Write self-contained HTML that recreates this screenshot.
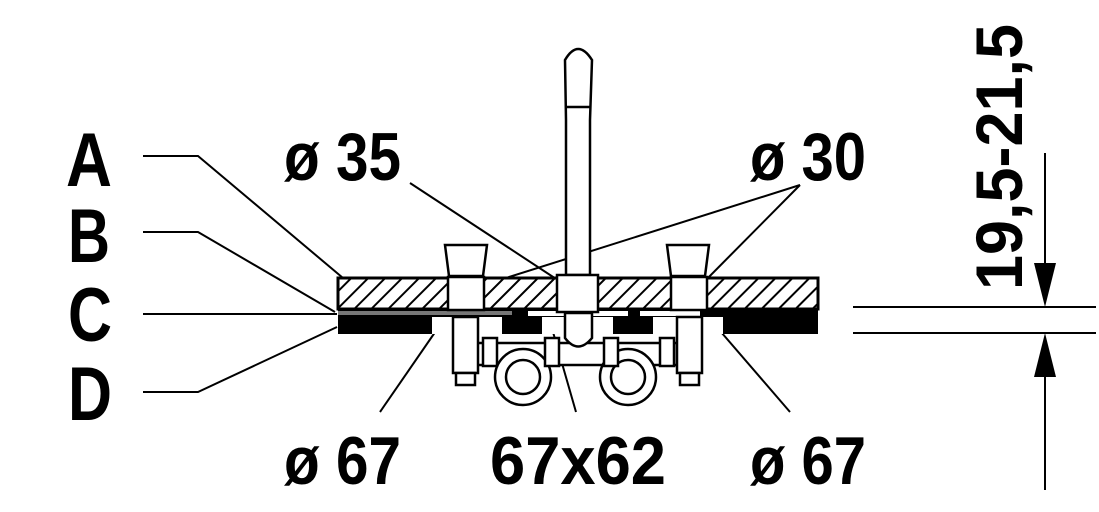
<!DOCTYPE html>
<html><head><style>html,body{margin:0;padding:0;background:#fff;}svg{display:block}</style></head>
<body>
<svg width="1099" height="512" viewBox="0 0 1099 512" xmlns="http://www.w3.org/2000/svg">
<defs>
<pattern id="h" width="12" height="12" patternUnits="userSpaceOnUse" patternTransform="rotate(45)">
<rect width="12" height="12" fill="#fff"/><line x1="0" y1="0" x2="0" y2="12" stroke="#000" stroke-width="4"/>
</pattern>
</defs>
<g font-family="Liberation Sans, sans-serif" font-weight="bold" fill="#000">
<text x="66" y="186" font-size="76" textLength="46" lengthAdjust="spacingAndGlyphs">A</text>
<text x="68" y="262" font-size="76" textLength="42" lengthAdjust="spacingAndGlyphs">B</text>
<text x="68" y="341" font-size="76" textLength="44" lengthAdjust="spacingAndGlyphs">C</text>
<text x="68" y="420" font-size="76" textLength="44" lengthAdjust="spacingAndGlyphs">D</text>
<text x="284" y="180" font-size="68" textLength="117" lengthAdjust="spacingAndGlyphs">ø 35</text>
<text x="750" y="180" font-size="68" textLength="116" lengthAdjust="spacingAndGlyphs">ø 30</text>
<text x="284" y="484" font-size="68" textLength="117" lengthAdjust="spacingAndGlyphs">ø 67</text>
<text x="490" y="484" font-size="68" textLength="176" lengthAdjust="spacingAndGlyphs">67x62</text>
<text x="750" y="484" font-size="68" textLength="116" lengthAdjust="spacingAndGlyphs">ø 67</text>
<text transform="translate(1022,290) rotate(-90)" font-size="66" textLength="266" lengthAdjust="spacingAndGlyphs">19,5-21,5</text>
</g>
<g stroke="#000" fill="none" stroke-width="2">
<polyline points="143,156 198,156 343,278"/>
<polyline points="143,232 198,232 335,312"/>
<polyline points="143,314 337,314"/>
<polyline points="143,392 198,392 337,327"/>
<line x1="410" y1="183" x2="576" y2="292"/>
<line x1="800" y1="185" x2="468" y2="290"/>
<line x1="800" y1="185" x2="697" y2="289"/>
<line x1="440" y1="325" x2="380" y2="412"/>
<line x1="553" y1="332" x2="576" y2="412"/>
<line x1="715" y1="325" x2="790" y2="412"/>
<line x1="853" y1="307" x2="1096" y2="307"/>
<line x1="853" y1="333" x2="1096" y2="333"/>
<line x1="1045" y1="153" x2="1045" y2="270"/>
<line x1="1045" y1="370" x2="1045" y2="490"/>
</g>
<polygon points="1034,263 1056,263 1045,307" fill="#000"/>
<polygon points="1034,377 1056,377 1045,333" fill="#000"/>
<!-- countertop -->
<rect x="338" y="278" width="480" height="31" fill="url(#h)" stroke="#000" stroke-width="3"/>
<rect x="338" y="309" width="480" height="8" fill="#000"/>
<rect x="338" y="311" width="174" height="4" fill="#777"/>
<rect x="528" y="311" width="100" height="5" fill="#fff"/>
<rect x="640" y="311" width="60" height="5" fill="#fff"/>
<rect x="338" y="317" width="480" height="17" fill="#000"/>
<rect x="432" y="317" width="70" height="17" fill="#fff"/>
<rect x="542" y="317" width="71" height="17" fill="#fff"/>
<rect x="653" y="317" width="70" height="17" fill="#fff"/>
<g stroke="#000" stroke-width="2.5" fill="#fff">
<!-- spout -->
<path d="M566,275 L566,120 L565,60 Q578,38 592,60 L590,120 L590,275 Z"/>
<line x1="566" y1="107" x2="591" y2="107"/>
<!-- cones -->
<polygon points="445,245 487,245 483,276 449,276"/>
<polygon points="667,245 709,245 705,276 671,276"/>
<!-- blocks -->
<rect x="448" y="277" width="36" height="33"/>
<rect x="557" y="275" width="41" height="37"/>
<rect x="671" y="277" width="36" height="33"/>
<!-- crossbar and rings -->
<rect x="477" y="343" width="200" height="22"/>
<circle cx="523" cy="377" r="28"/>
<circle cx="523" cy="377" r="17"/>
<circle cx="628" cy="377" r="28"/>
<circle cx="628" cy="377" r="17"/>
<rect x="483" y="338" width="14" height="28"/>
<rect x="545" y="338" width="14" height="28"/>
<rect x="604" y="338" width="14" height="28"/>
<rect x="660" y="338" width="14" height="28"/>
<!-- stems below -->
<rect x="453" y="317" width="25" height="56"/>
<rect x="677" y="317" width="25" height="56"/>
<rect x="456" y="373" width="19" height="12"/>
<rect x="680" y="373" width="19" height="12"/>
<path d="M565,313 L565,338 Q578,355 592,338 L592,313 Z"/>
</g>
</svg>
</body></html>
